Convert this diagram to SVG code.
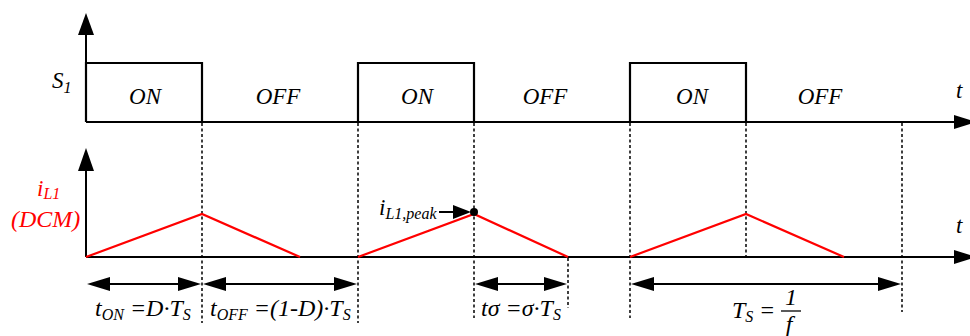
<svg xmlns="http://www.w3.org/2000/svg" width="970" height="336" viewBox="0 0 970 336">
<defs>
<style>
.ax{stroke:#000;stroke-width:2;fill:none}
.pulse{stroke:#000;stroke-width:2.2;fill:none}
.dash{stroke:#000;stroke-width:1.5;stroke-dasharray:3,2.5;fill:none}
.red{stroke:#ff0000;stroke-width:2.2;fill:none}
.dim{stroke:#000;stroke-width:2;fill:none}
.ah{fill:#000}
text{font-family:"Liberation Serif","Times New Roman",serif;font-style:italic;fill:#000}
.big{font-size:23px}
.lab{font-size:24px}
.sub{font-size:16px}
.rt{fill:#ff0000}
</style>
</defs>
<rect width="970" height="336" fill="#fff"/>

<g id="dashes">
<line class="dash" x1="202" y1="123" x2="202" y2="323"/>
<line class="dash" x1="358" y1="123" x2="358" y2="323"/>
<line class="dash" x1="474" y1="123" x2="474" y2="318"/>
<line class="dash" x1="568" y1="258" x2="568" y2="308"/>
<line class="dash" x1="630" y1="123" x2="630" y2="318"/>
<line class="dash" x1="746" y1="123" x2="746" y2="257"/>
<line class="dash" x1="902" y1="123" x2="902" y2="312"/>
</g>

<g id="top-axes">
<line class="ax" x1="86" y1="122" x2="86" y2="33"/>
<polygon class="ah" points="86,13 78,35 94,35"/>
<line class="ax" x1="86" y1="122" x2="956" y2="122"/>
<polygon class="ah" points="976,122 954,115 954,129"/>
</g>

<g id="pulses">
<polyline class="pulse" points="86,122 86,63 202,63 202,122"/>
<polyline class="pulse" points="358,122 358,63 474,63 474,122"/>
<polyline class="pulse" points="630,122 630,63 746,63 746,122"/>
</g>

<g id="top-labels">
<text class="big" x="52" y="88">S<tspan class="sub" dy="5">1</tspan></text>
<text class="big" x="145" y="104" text-anchor="middle">ON</text>
<text class="big" x="278" y="104" text-anchor="middle">OFF</text>
<text class="big" x="417" y="104" text-anchor="middle">ON</text>
<text class="big" x="545" y="104" text-anchor="middle">OFF</text>
<text class="big" x="692" y="104" text-anchor="middle">ON</text>
<text class="big" x="820" y="104" text-anchor="middle">OFF</text>
<text class="big" x="956" y="98">t</text>
</g>

<g id="bottom-axes">
<line class="ax" x1="86" y1="257" x2="86" y2="168"/>
<polygon class="ah" points="86,148 78,171 94,171"/>
<line class="ax" x1="86" y1="257" x2="956" y2="257"/>
<polygon class="ah" points="976,257 954,250 954,264"/>
<text class="big" x="956" y="233">t</text>
</g>

<g id="current">
<polyline class="red" points="86,257 202,214 300,257"/>
<polyline class="red" points="358,257 474,214 568,257"/>
<polyline class="red" points="630,257 746,214 844,257"/>
<circle cx="474" cy="212" r="4" fill="#000"/>
<line class="dim" x1="439" y1="212" x2="456" y2="212"/>
<polygon class="ah" points="471,212 453,205 453,219"/>
<text class="big" x="379" y="215">i<tspan class="sub" dy="4">L1,peak</tspan></text>
<text class="big rt" x="37" y="196">i<tspan class="sub rt" dy="3">L1</tspan></text>
<text class="lab rt" x="11" y="227">(DCM)</text>
</g>

<g id="dimensions">
<line class="dim" x1="100" y1="284" x2="190" y2="284"/>
<polygon class="ah" points="87,284 110,277 110,291"/>
<polygon class="ah" points="201,284 178,277 178,291"/>
<line class="dim" x1="215" y1="284" x2="345" y2="284"/>
<polygon class="ah" points="203,284 226,277 226,291"/>
<polygon class="ah" points="357,284 334,277 334,291"/>
<line class="dim" x1="488" y1="284" x2="555" y2="284"/>
<polygon class="ah" points="475,284 498,277 498,291"/>
<polygon class="ah" points="567,284 544,277 544,291"/>
<line class="dim" x1="644" y1="284" x2="888" y2="284"/>
<polygon class="ah" points="631,284 654,277 654,291"/>
<polygon class="ah" points="901,284 878,277 878,291"/>
</g>

<g id="dim-labels">
<text class="lab" x="95" y="316">t<tspan class="sub" dy="4">ON</tspan><tspan dy="-4"> =D·T</tspan><tspan class="sub" dy="4">S</tspan></text>
<text class="lab" x="210" y="316">t<tspan class="sub" dy="4">OFF</tspan><tspan dy="-4"> =(1-D)·T</tspan><tspan class="sub" dy="4">S</tspan></text>
<text class="lab" x="481" y="316">tσ =σ·T<tspan class="sub" dy="4">S</tspan></text>
<text class="lab" x="732" y="318">T<tspan class="sub" dy="4">S</tspan></text>
<text class="lab" x="759" y="318" font-style="normal">=</text>
<line x1="781" y1="311" x2="801" y2="311" stroke="#000" stroke-width="1.3"/>
<text class="lab" x="791" y="305" text-anchor="middle">1</text>
<text class="lab" x="789" y="332" text-anchor="middle">f</text>
</g>
</svg>
